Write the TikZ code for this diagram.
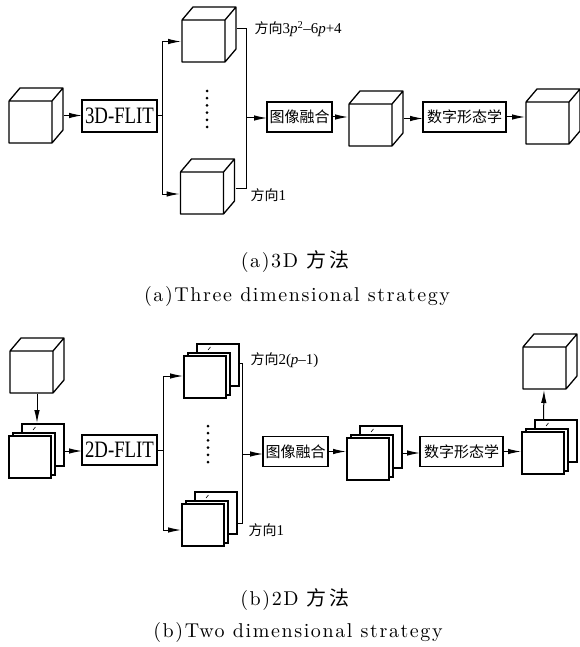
\documentclass[tikz,border=0pt]{standalone}
\usepackage{fontspec}
\newfontfamily\cjk{Noto Sans CJK SC}
\newfontfamily\cjkcap[LetterSpace=14]{Noto Sans CJK SC}
\newfontfamily\capfont[LetterSpace=8]{lmroman10-regular.otf}
\newfontfamily\tnr{Liberation Serif}
\newfontfamily\tnrn[FakeStretch=0.8]{Liberation Serif}
\usetikzlibrary{arrows.meta}
\tikzstyle{box}=[rectangle,draw,line width=1.6pt,inner sep=0pt,outer sep=0pt,minimum height=30pt,font=\cjk\fontsize{15}{15}\selectfont]
\tikzstyle{flit}=[box,minimum width=75pt,font=\tnrn\fontsize{23.5}{24}\selectfont]
\tikzstyle{cube}=[rectangle,inner sep=0pt,outer sep=0pt,minimum width=56pt,minimum height=57pt,
  path picture={
    \coordinate (o) at ([shift={(1pt,1pt)}]path picture bounding box.south west);
    \draw[line width=1.3pt,line join=round]
      (o) rectangle ++(43pt,42pt)
      ([shift={(0pt,42pt)}]o) -- ++(11pt,13pt) -- ++(43pt,0pt) -- ++(0pt,-42pt) -- ++(-11pt,-13pt)
      ([shift={(43pt,42pt)}]o) -- ++(11pt,13pt);
  }]
\tikzstyle{stack}=[rectangle,inner sep=0pt,outer sep=0pt,minimum width=57pt,minimum height=56pt,
  path picture={
    \coordinate (o) at ([shift={(1pt,1pt)}]path picture bounding box.south west);
    \filldraw[fill=white,line width=1.2pt] ([shift={(13pt,12pt)}]o) rectangle ++(42pt,42pt);
    \draw[line width=0.6pt] ([shift={(24pt,48pt)}]o) -- ++(2.5pt,3pt);
    \filldraw[fill=white,line width=1.2pt] ([shift={(4pt,3pt)}]o) rectangle ++(42pt,42pt);
    \filldraw[fill=white,line width=1.2pt] (o) rectangle ++(42pt,42pt);
  }]
\tikzstyle{lbl}=[anchor=west,inner sep=0pt,font=\fontsize{14}{14}\selectfont]
\tikzstyle{captext}=[inner sep=0pt,font=\capfont\fontsize{20}{20}\selectfont]

\begin{document}
\begin{tikzpicture}[x=1pt,y=-1pt,line width=1pt,>={Latex[length=13pt,width=5.5pt]}]
  \useasboundingbox (0,0) rectangle (580,647);

  % (a) 3D
  \node at (36,115.5)  [cube]  (in3) {};
  \node at (119.5,116) [flit,minimum height=32pt] (flit3) {3D-FLIT};
  \node at (209,34.5)  [cube]  (top3) {};
  \node at (207.5,186.5) [cube] (bot3) {};
  \node at (299.5,117) [box,minimum width=65pt] (fuse3) {图像融合};
  \node at (376,118.5) [cube]  (mid3) {};
  \node at (464.5,117) [box,minimum width=83pt] (morph3) {数字形态学};
  \node at (553,116.5) [cube]  (out3) {};
  \coordinate (fork3) at (162,116);
  \coordinate (join3) at (246,118);
  \node at (254,29)  [lbl] (dir3a) {{\cjk 方向}{\tnr\fontsize{15}{15}\selectfont 3\textit{p}\textsuperscript{2}–6\textit{p}+4}};
  \node at (250,195) [lbl] (dir3b) {{\cjk 方向}{\tnr\fontsize{15}{15}\selectfont 1}};
  \foreach \k in {0,...,5}
    \fill (207,{91+7.2*\k}) circle (1.5pt);

  \draw [->] (in3.east) -- (in3.east -| flit3.west);
  \draw (flit3.east) -- (fork3);
  \draw [->] (fork3) |- ([yshift=-7pt]top3.west);
  \draw [->] (fork3) |- ([yshift=-7.5pt]bot3.west);
  \draw ([yshift=5.5pt]top3.east) -| (join3);
  \draw ([yshift=-1.5pt]bot3.east) -| (join3);
  \draw [->] (join3) -- (join3 -| fuse3.west);
  \draw [->] (fuse3.east) -- (fuse3.east -| mid3.west);
  \draw [->] (mid3.east) -- (mid3.east -| morph3.west);
  \draw [->] (morph3.east) -- (morph3.east -| out3.west);

  \node at (295,262) [captext] (capa)  {(a)3D {\cjkcap 方法}};
  \node at (297,296) [captext] (capa2) {(a)Three dimensional strategy};

  % (b) 2D
  \node at (37,365.5)  [cube]  (in2) {};
  \node at (36.5,451)  [stack] (sl1) {};
  \node at (119.5,450) [flit]  (flit2) {2D-FLIT};
  \node at (211.5,371) [stack] (top2) {};
  \node at (209.5,519) [stack] (bot2) {};
  \node at (295.5,451.5) [box,minimum width=65pt] (fuse2) {图像融合};
  \node at (374.5,453) [stack] (sl2) {};
  \node at (461.5,451.5) [box,minimum width=83pt] (morph2) {数字形态学};
  \node at (549.5,447) [stack] (sl3) {};
  \node at (550,361.5) [cube]  (out2) {};
  \coordinate (fork2) at (163,450);
  \coordinate (join2) at (242,454);
  \node at (250,360) [lbl] (dir2a) {{\cjk 方向}{\tnr\fontsize{15}{15}\selectfont 2(\textit{p}–1)}};
  \node at (248,530) [lbl] (dir2b) {{\cjk 方向}{\tnr\fontsize{15}{15}\selectfont 1}};
  \foreach \k in {0,...,5}
    \fill (208,{426+7.2*\k}) circle (1.5pt);

  \draw [->] (in2.south) -- (in2.south |- sl1.north);
  \draw [->] (sl1.east) -- (sl1.east -| flit2.west);
  \draw (flit2.east) -- (fork2);
  \draw [->] (fork2) |- ([yshift=-5pt]top2.west);
  \draw [->] (fork2) |- ([yshift=-11pt]bot2.west);
  \draw ([yshift=8pt]top2.east) -| (join2);
  \draw ([yshift=-4pt]bot2.east) -| (join2);
  \draw [->] (join2) -- (join2 -| fuse2.west);
  \draw [->] (fuse2.east) -- (fuse2.east -| sl2.west);
  \draw [->] (sl2.east) -- (sl2.east -| morph2.west);
  \draw [->] (morph2.east) -- (morph2.east -| sl3.west);
  \draw [->] ([xshift=-6pt]sl3.north) -- ([xshift=-6pt]out2.south);

  \node at (295,600) [captext] (capb)  {(b)2D {\cjkcap 方法}};
  \node at (298,632) [captext] (capb2) {(b)Two dimensional strategy};
\end{tikzpicture}
\end{document}
